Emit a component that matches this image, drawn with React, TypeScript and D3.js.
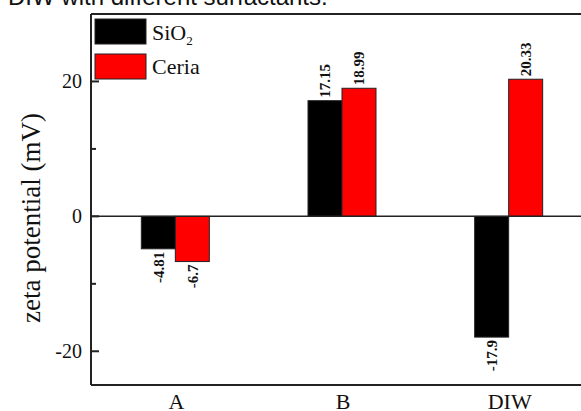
import React from 'react';
import * as d3 from 'd3';

const categories = ['A', 'B', 'DIW'];
const seriesNames = ['SiO2', 'Ceria'];
const sio2Values = [-4.81, 17.15, -17.9];
const ceriaValues = [-6.7, 18.99, 20.33];
const majorTicks = [-20, 0, 20];
const minorTicks = [-10, 10];

const W = 581;
const H = 411;
const serif = '"Liberation Serif", "Times New Roman", serif';

export default function App() {
  const left = 91;
  const top = 14;
  const bottom = 385;

  const y = d3.scaleLinear().domain([-25, 30]).range([bottom, top]);
  const x = d3.scaleBand().domain(categories).range([92, 592]);
  const x1 = d3.scaleBand().domain(seriesNames).range([-34, 34]);
  const colors = ['#000000', '#ff0000'];
  const series = [sio2Values, ceriaValues];

  const y0 = y(0);

  return (
    <svg width={W} height={H} style={{ position: 'absolute', left: 0, top: 0, background: '#fff' }}>
      {/* caption text cut at the top */}
      <text x={8} y={4.5} fontFamily='"Liberation Sans", Arial, sans-serif' fontSize={24} fill="#111">
        DIW with different surfactants.
      </text>

      {/* bars */}
      {series.map((vals, si) =>
        vals.map((v, i) => {
          const cx = x(categories[i])! + x.bandwidth() / 2;
          const bx = cx + x1(seriesNames[si])!;
          const yv = y(v);
          return (
            <rect
              key={si + '-' + i}
              x={bx}
              y={Math.min(yv, y0)}
              width={x1.bandwidth()}
              height={Math.abs(yv - y0)}
              fill={colors[si]}
              stroke="#222"
              strokeWidth={1}
            />
          );
        })
      )}

      {/* value labels */}
      {series.map((vals, si) =>
        vals.map((v, i) => {
          const cx = x(categories[i])! + x.bandwidth() / 2 + x1(seriesNames[si])! + x1.bandwidth() / 2;
          const yv = y(v);
          const ly = v >= 0 ? yv - 3 : yv + 3;
          return (
            <text
              key={'l' + si + '-' + i}
              transform={`translate(${cx},${ly}) rotate(-90)`}
              textAnchor={v >= 0 ? 'start' : 'end'}
              dy="0.35em"
              fontFamily={serif}
              fontWeight="bold"
              fontSize={15}
              fill="#111"
            >
              {String(v)}
            </text>
          );
        })
      )}

      {/* zero line */}
      <line x1={left} x2={W} y1={y0} y2={y0} stroke="#222" strokeWidth={1.5} />

      {/* frame */}
      <line x1={left} x2={W} y1={top} y2={top} stroke="#222" strokeWidth={2} />
      <line x1={left} x2={W} y1={bottom} y2={bottom} stroke="#222" strokeWidth={2} />
      <line x1={left} x2={left} y1={top} y2={bottom} stroke="#222" strokeWidth={2} />

      {/* y ticks */}
      {majorTicks.map((t) => (
        <g key={'t' + t}>
          <line x1={left} x2={left + 8} y1={y(t)} y2={y(t)} stroke="#222" strokeWidth={2} />
          <text x={82} y={y(t)} dy="0.35em" textAnchor="end" fontFamily={serif} fontSize={20} fill="#111">
            {t}
          </text>
        </g>
      ))}
      {minorTicks.map((t) => (
        <line key={'m' + t} x1={left} x2={left + 5} y1={y(t)} y2={y(t)} stroke="#222" strokeWidth={2} />
      ))}

      {/* x labels */}
      {categories.map((c) => (
        <text
          key={'c' + c}
          x={x(c)! + x.bandwidth() / 2 + 1}
          y={409}
          textAnchor="middle"
          fontFamily={serif}
          fontSize={22}
          fill="#111"
        >
          {c}
        </text>
      ))}

      {/* y title */}
      <text
        transform={`translate(40,218) rotate(-90)`}
        textAnchor="middle"
        fontFamily={serif}
        fontSize={27}
        fill="#111"
      >
        zeta potential (mV)
      </text>

      {/* legend */}
      <rect x={95} y={19} width={51} height={25} fill={colors[0]} stroke="#222" />
      <rect x={95} y={54} width={51} height={25} fill={colors[1]} stroke="#222" />
      <text x={152} y={40} fontFamily={serif} fontSize={22} fill="#111">
        SiO<tspan fontSize={13} dy={5}>2</tspan>
      </text>
      <text x={152} y={74} fontFamily={serif} fontSize={22} fill="#111">
        Ceria
      </text>
    </svg>
  );
}
